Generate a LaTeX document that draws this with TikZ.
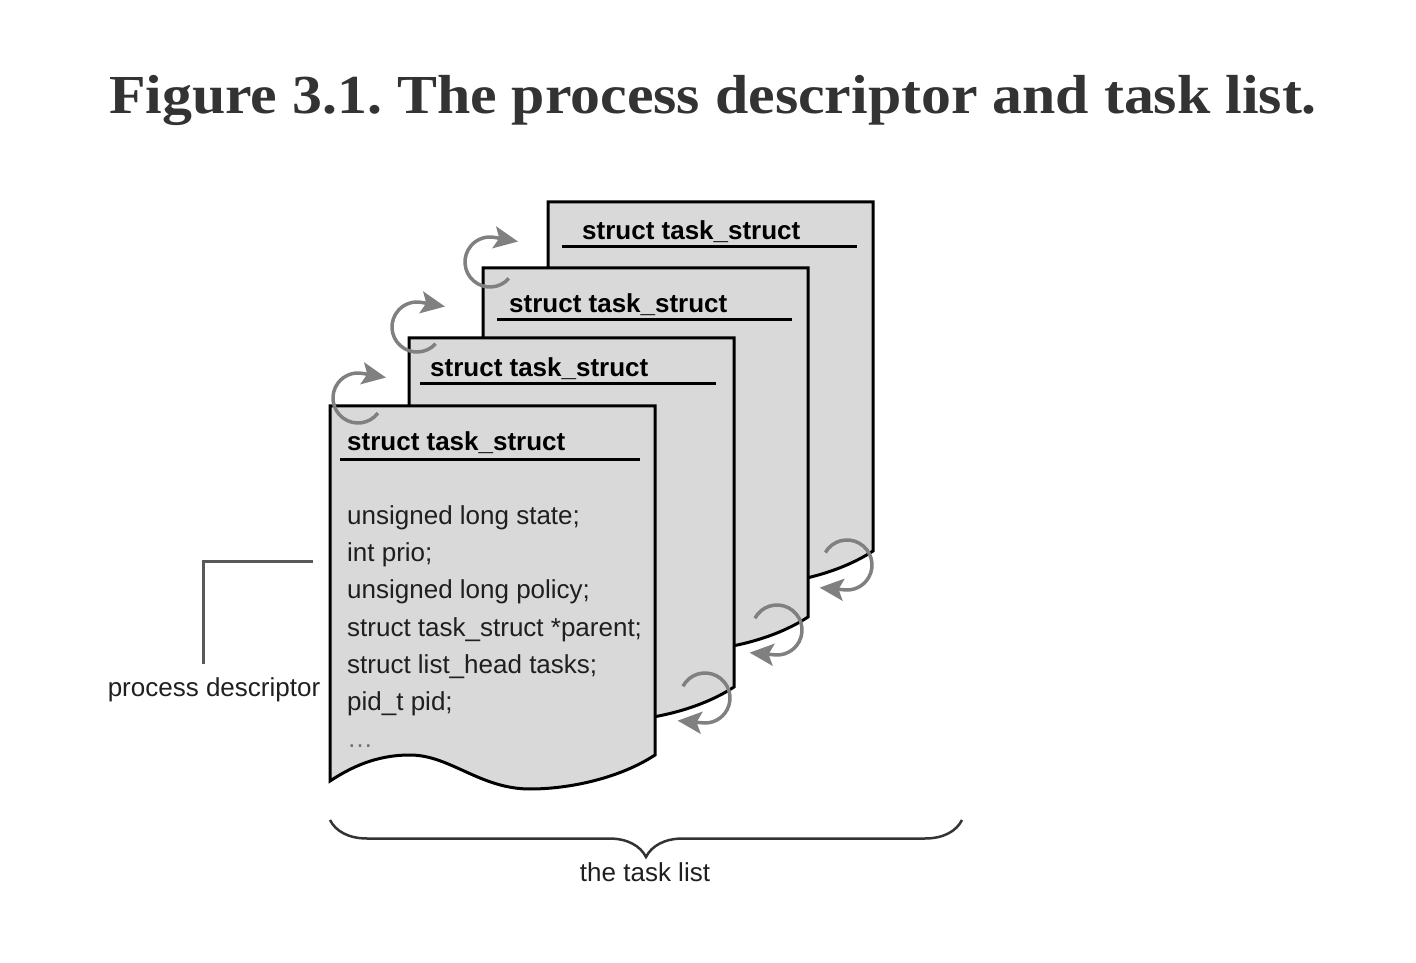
\documentclass[tikz,border=0pt]{standalone}
\usepackage{fontspec}
\setmainfont{Liberation Sans}
\newfontfamily\titlefont{Liberation Serif}
\usetikzlibrary{arrows.meta,decorations.pathreplacing}
\definecolor{sheetgray}{HTML}{D9D9D9}
\definecolor{linkgray}{HTML}{808080}
\definecolor{titlegray}{HTML}{333333}
\frenchspacing

\begin{document}
\begin{tikzpicture}
	[x=1pt, y=1pt,
	 sheet/.style = {draw=black, fill=sheetgray, line width=3pt},
	 heading/.style = {anchor=base west, inner sep=0pt, font=\fontsize{26}{30}\selectfont\bfseries},
	 rule/.style = {line width=3pt},
	 field/.style = {anchor=base west, inner sep=0pt, text=black!88, font=\fontsize{26}{30}\selectfont},
	 note/.style = {anchor=base, inner sep=0pt, text=black!88, font=\fontsize{26}{30}\selectfont},
	 lead/.style = {draw=black!65, line width=3pt},
	 link/.style = {draw=linkgray, line width=3.5pt, -{Stealth[length=24pt, width=22pt, inset=5pt]}}]
	\useasboundingbox (0,0) rectangle (1416,962);
	\node (fig) [anchor=base, text=titlegray, font=\titlefont\fontsize{55}{60}\selectfont\bfseries] at (713,848) {\scalebox{1.088}[1]{Figure 3.1. The process descriptor and task list.}};

	\filldraw[sheet, shift={(548,760)}] (0,0) -- (325,0) -- (325,-349) .. controls (290,-372) and (240,-383) .. (200,-383) .. controls (150,-383) and (120,-349) .. (80,-349) .. controls (45,-349) and (20,-362) .. (0,-375) -- cycle;
	\node (h4) [heading] at (582,722) {struct task\_struct};
	\draw[rule] (562,715) -- (857,715);

	\filldraw[sheet, shift={(483,694)}] (0,0) -- (325,0) -- (325,-349) .. controls (290,-372) and (240,-383) .. (200,-383) .. controls (150,-383) and (120,-349) .. (80,-349) .. controls (45,-349) and (20,-362) .. (0,-375) -- cycle;
	\node (h3) [heading] at (509,649) {struct task\_struct};
	\draw[rule] (497,642) -- (792,642);

	\filldraw[sheet, shift={(409,624)}] (0,0) -- (325,0) -- (325,-349) .. controls (290,-372) and (240,-383) .. (200,-383) .. controls (150,-383) and (120,-349) .. (80,-349) .. controls (45,-349) and (20,-362) .. (0,-375) -- cycle;
	\node (h2) [heading] at (430,585) {struct task\_struct};
	\draw[rule] (420,578) -- (716,578);

	\filldraw[sheet, shift={(330,556)}] (0,0) -- (325,0) -- (325,-349) .. controls (290,-372) and (240,-383) .. (200,-383) .. controls (150,-383) and (120,-349) .. (80,-349) .. controls (45,-349) and (20,-362) .. (0,-375) -- cycle;
	\node (h1) [heading] at (347,511) {struct task\_struct};
	\draw[rule] (340,502) -- (640,502);

	\node (f1) [field] at (347,437) {unsigned long state;};
	\node (f2) [field] at (347,400) {int prio;};
	\node (f3) [field] at (347,363) {unsigned long policy;};
	\node (f4) [field] at (347,326) {struct task\_struct *parent;};
	\node (f5) [field] at (347,289) {struct list\_head tasks;};
	\node (f6) [field] at (347,252) {pid\_t pid;};
	\node (f7) [field, text=black!55] at (347,215) {…};

	\coordinate (pdtip) at (313,400);
	\node (pd) [note] at (214,266) {process descriptor};
	\draw[lead] (pdtip) -| ([shift={(-11,13)}]pd.north);

	\coordinate (bl) at (330,142);
	\coordinate (br) at (962,142);
	\draw[draw=black!80, line width=2.5pt, decorate, decoration={brace, mirror, amplitude=37pt}] (bl) -- (br);
	\node (tl) [note] at (645,81) {the task list};

	\coordinate (ca1) at (358,564);
	\coordinate (ca2) at (417,635);
	\coordinate (ca3) at (490,700);
	\coordinate (cb1) at (705,264);
	\coordinate (cb2) at (777,332);
	\coordinate (cb3) at (847,397);
	\draw[link] (ca1) ++(-37:25) arc[start angle=-37, end angle=-280, radius=25] -- ++(-10:24);
	\draw[link] (ca2) ++(-42:25) arc[start angle=-42, end angle=-280, radius=25] -- ++(-10:24);
	\draw[link] (ca3) ++(-41:25) arc[start angle=-41, end angle=-280, radius=25] -- ++(-10:24);
	\draw[link] (cb1) ++(152:25) arc[start angle=152, end angle=-98, radius=25] -- ++(175:24);
	\draw[link] (cb2) ++(152:25) arc[start angle=152, end angle=-98, radius=25] -- ++(175:24);
	\draw[link] (cb3) ++(150:25) arc[start angle=150, end angle=-98, radius=25] -- ++(175:24);
\end{tikzpicture}
\end{document}
